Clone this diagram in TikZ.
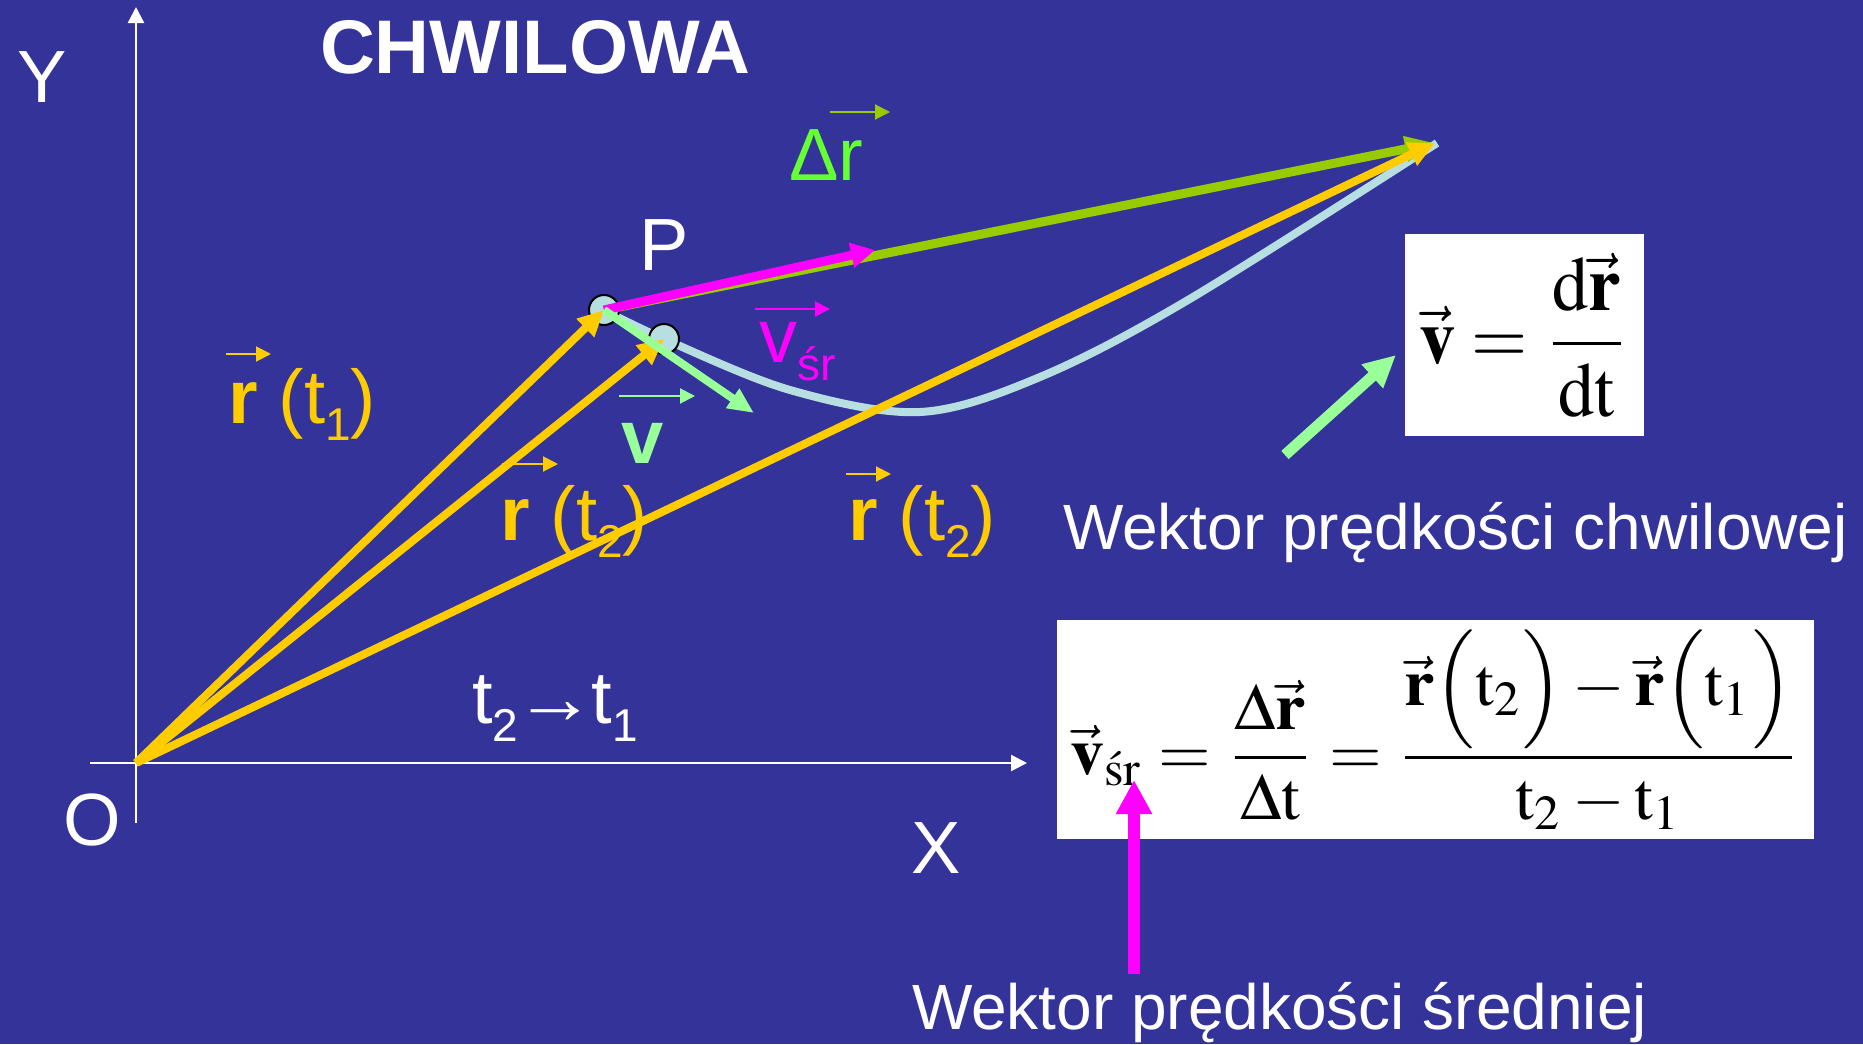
\documentclass[tikz,border=0pt]{standalone}
\usepackage{amsmath}
\usepackage{mathptmx}
\usepackage[no-math]{fontspec}
\setmainfont{Liberation Sans}
\usetikzlibrary{arrows.meta}
\definecolor{bg}{HTML}{333399}
\definecolor{yel}{HTML}{FFCC00}
\definecolor{mag}{HTML}{FF00FF}
\definecolor{olive}{HTML}{99CC00}
\definecolor{brgreen}{HTML}{66FF33}
\definecolor{lgreen}{HTML}{99FF99}
\definecolor{lblue}{HTML}{B7DFE1}
\newcommand\lsub[3]{\raisebox{-#1}{\fontsize{#2}{#2}\selectfont #3}}
\begin{document}
\begin{tikzpicture}[x=0.5pt,y=-0.5pt,
  every node/.style={inner sep=0pt,outer sep=0pt},
  big/.style={font=\fontsize{37pt}{40pt}\selectfont,text=white},
  lbl/.style={anchor=base west,font=\fontsize{38pt}{40pt}\selectfont},
  wek/.style={anchor=base west,font=\fontsize{32pt}{36pt}\selectfont,text=white},
  axis/.style={draw=white,line width=1.2pt,-{Triangle[length=8pt,width=8pt]}},
  oarr/.style={line width=1pt,-{Triangle[length=7.5pt,width=7.5pt]}},
  yarr/.style={draw=yel,line width=4pt,-{Triangle[length=13pt,width=12pt]}},
  curve/.style={draw=lblue,line width=4pt},
  dot/.style={circle,fill=lblue,draw=black,line width=1pt,minimum size=15pt},
  fbox/.style={fill=white,draw=none}]
\fill[bg] (0,0) rectangle (1863,1044);
\useasboundingbox (0,0) rectangle (1863,1044);
% axes
\coordinate (O) at (136,763);
\coordinate (ytop) at (136,7);
\coordinate (ybot) at (136,823);
\coordinate (xl) at (90,763);
\coordinate (xr) at (1027,763);
\draw[axis] (ybot) -- (ytop);
\draw[axis] (xl) -- (xr);
\node[big] (Ylab) at (42,77) {Y};
\node[big] (Olab) at (92,820) {O};
\node[big] (Xlab) at (936,848) {X};
\node[anchor=base west,font=\fontsize{38pt}{40pt}\selectfont\bfseries,text=white] (title) at (320,73) {CHWILOWA};
% trajectory
\draw[curve] plot[smooth,tension=0.55] coordinates {(604,310) (664,339) (790,390) (920,412) (1040,377) (1188,300) (1437,143)};
\node[dot] (P) at (604,310) {};
\node[dot] (Q) at (664,339) {};
\node[big] (Plab) at (664,245) {P};
\coordinate (E) at (1435,143);
\coordinate (M) at (875,250);
\coordinate (V) at (754,413);
% position vectors
\draw[yarr] (O) -- (P.center);
\draw[yarr] (O) -- (Q.center);
% displacement and velocities
\draw[draw=olive,line width=4.5pt,-{Triangle[length=15pt,width=12pt]}] (P.center) -- (E);
\draw[draw=mag,line width=4.5pt,-{Triangle[length=12pt,width=12pt]}] (P.center) -- (M);
\draw[draw=lgreen,line width=4pt,-{Triangle[length=13pt,width=11pt]}] (P.center) -- (V);
\draw[yarr] (O) -- (E);
% labels
\node[lbl,text=yel] (rt1) at (228,423) {\textbf{r} (t\lsub{8.5pt}{23pt}{1})};
\draw[oarr,draw=yel,fill=yel] (226,354) -- (271,354);
\node[lbl,text=yel] (rt2a) at (500,540) {\textbf{r} (t\lsub{8.5pt}{23pt}{2})};
\draw[oarr,draw=yel,fill=yel] (502,464) -- (558,464);
\node[lbl,text=yel] (rt2b) at (848,540) {\textbf{r} (t\lsub{8.5pt}{23pt}{2})};
\draw[oarr,draw=yel,fill=yel] (846,474) -- (891,474);
\node[lbl,text=lgreen] (vlab) at (621,463) {\textbf{v}};
\draw[oarr,draw=lgreen,fill=lgreen] (619,396) -- (695,396);
\node[lbl,text=mag] (vsr) at (759,362) {v\lsub{9pt}{23pt}{śr}};
\draw[oarr,draw=mag,fill=mag] (755,309) -- (830,309);
\node[lbl,text=brgreen,font=\fontsize{37pt}{40pt}\selectfont] (dr) at (789,180) {Δr};
\draw[oarr,draw=olive,fill=olive] (830,112) -- (890,112);
\node[lbl,text=white,font=\fontsize{37pt}{40pt}\selectfont] (tt) at (472,723) {t\lsub{9pt}{23pt}{2}\kern-2pt\scalebox{1.1}[1]{→}\kern-2pt t\lsub{9pt}{23pt}{1}};
% formula boxes
\node[fbox,minimum width=119.5pt,minimum height=101pt] (F1) at (1524.5,335) {\resizebox*{105pt}{82pt}{$\vec{\mathbf{v}}=\dfrac{\mathrm{d}\vec{\mathbf{r}}}{\mathrm{dt}}$}};
\node[fbox,minimum width=378.5pt,minimum height=109.5pt] (F2) at (1435.5,729.5) {\resizebox*{365pt}{100pt}{$\vec{\mathbf{v}}_{\mathrm{\acute{s}r}}=\dfrac{\Delta\vec{\mathbf{r}}}{\Delta\mathrm{t}}=\dfrac{\vec{\mathbf{r}}\Bigl(\mathrm{t}_2\Bigr)-\vec{\mathbf{r}}\Bigl(\mathrm{t}_1\Bigr)}{\mathrm{t}_2-\mathrm{t}_1}$}};
% pointer arrows
\coordinate (ga) at (1285,455);
\coordinate (gb) at (1396,355);
\draw[draw=lgreen,line width=5.5pt,-{Triangle[length=16pt,width=15pt]}] (ga) -- (gb);
\coordinate (ma) at (1134,974);
\coordinate (mb) at (1134,780);
\draw[draw=mag,line width=6pt,-{Triangle[length=17pt,width=17pt]}] (ma) -- (mb);
\node[wek] (w1) at (1063,549) {Wektor prędkości chwilowej};
\node[wek] (w2) at (912,1029) {Wektor prędkości średniej};
\end{tikzpicture}
\end{document}
